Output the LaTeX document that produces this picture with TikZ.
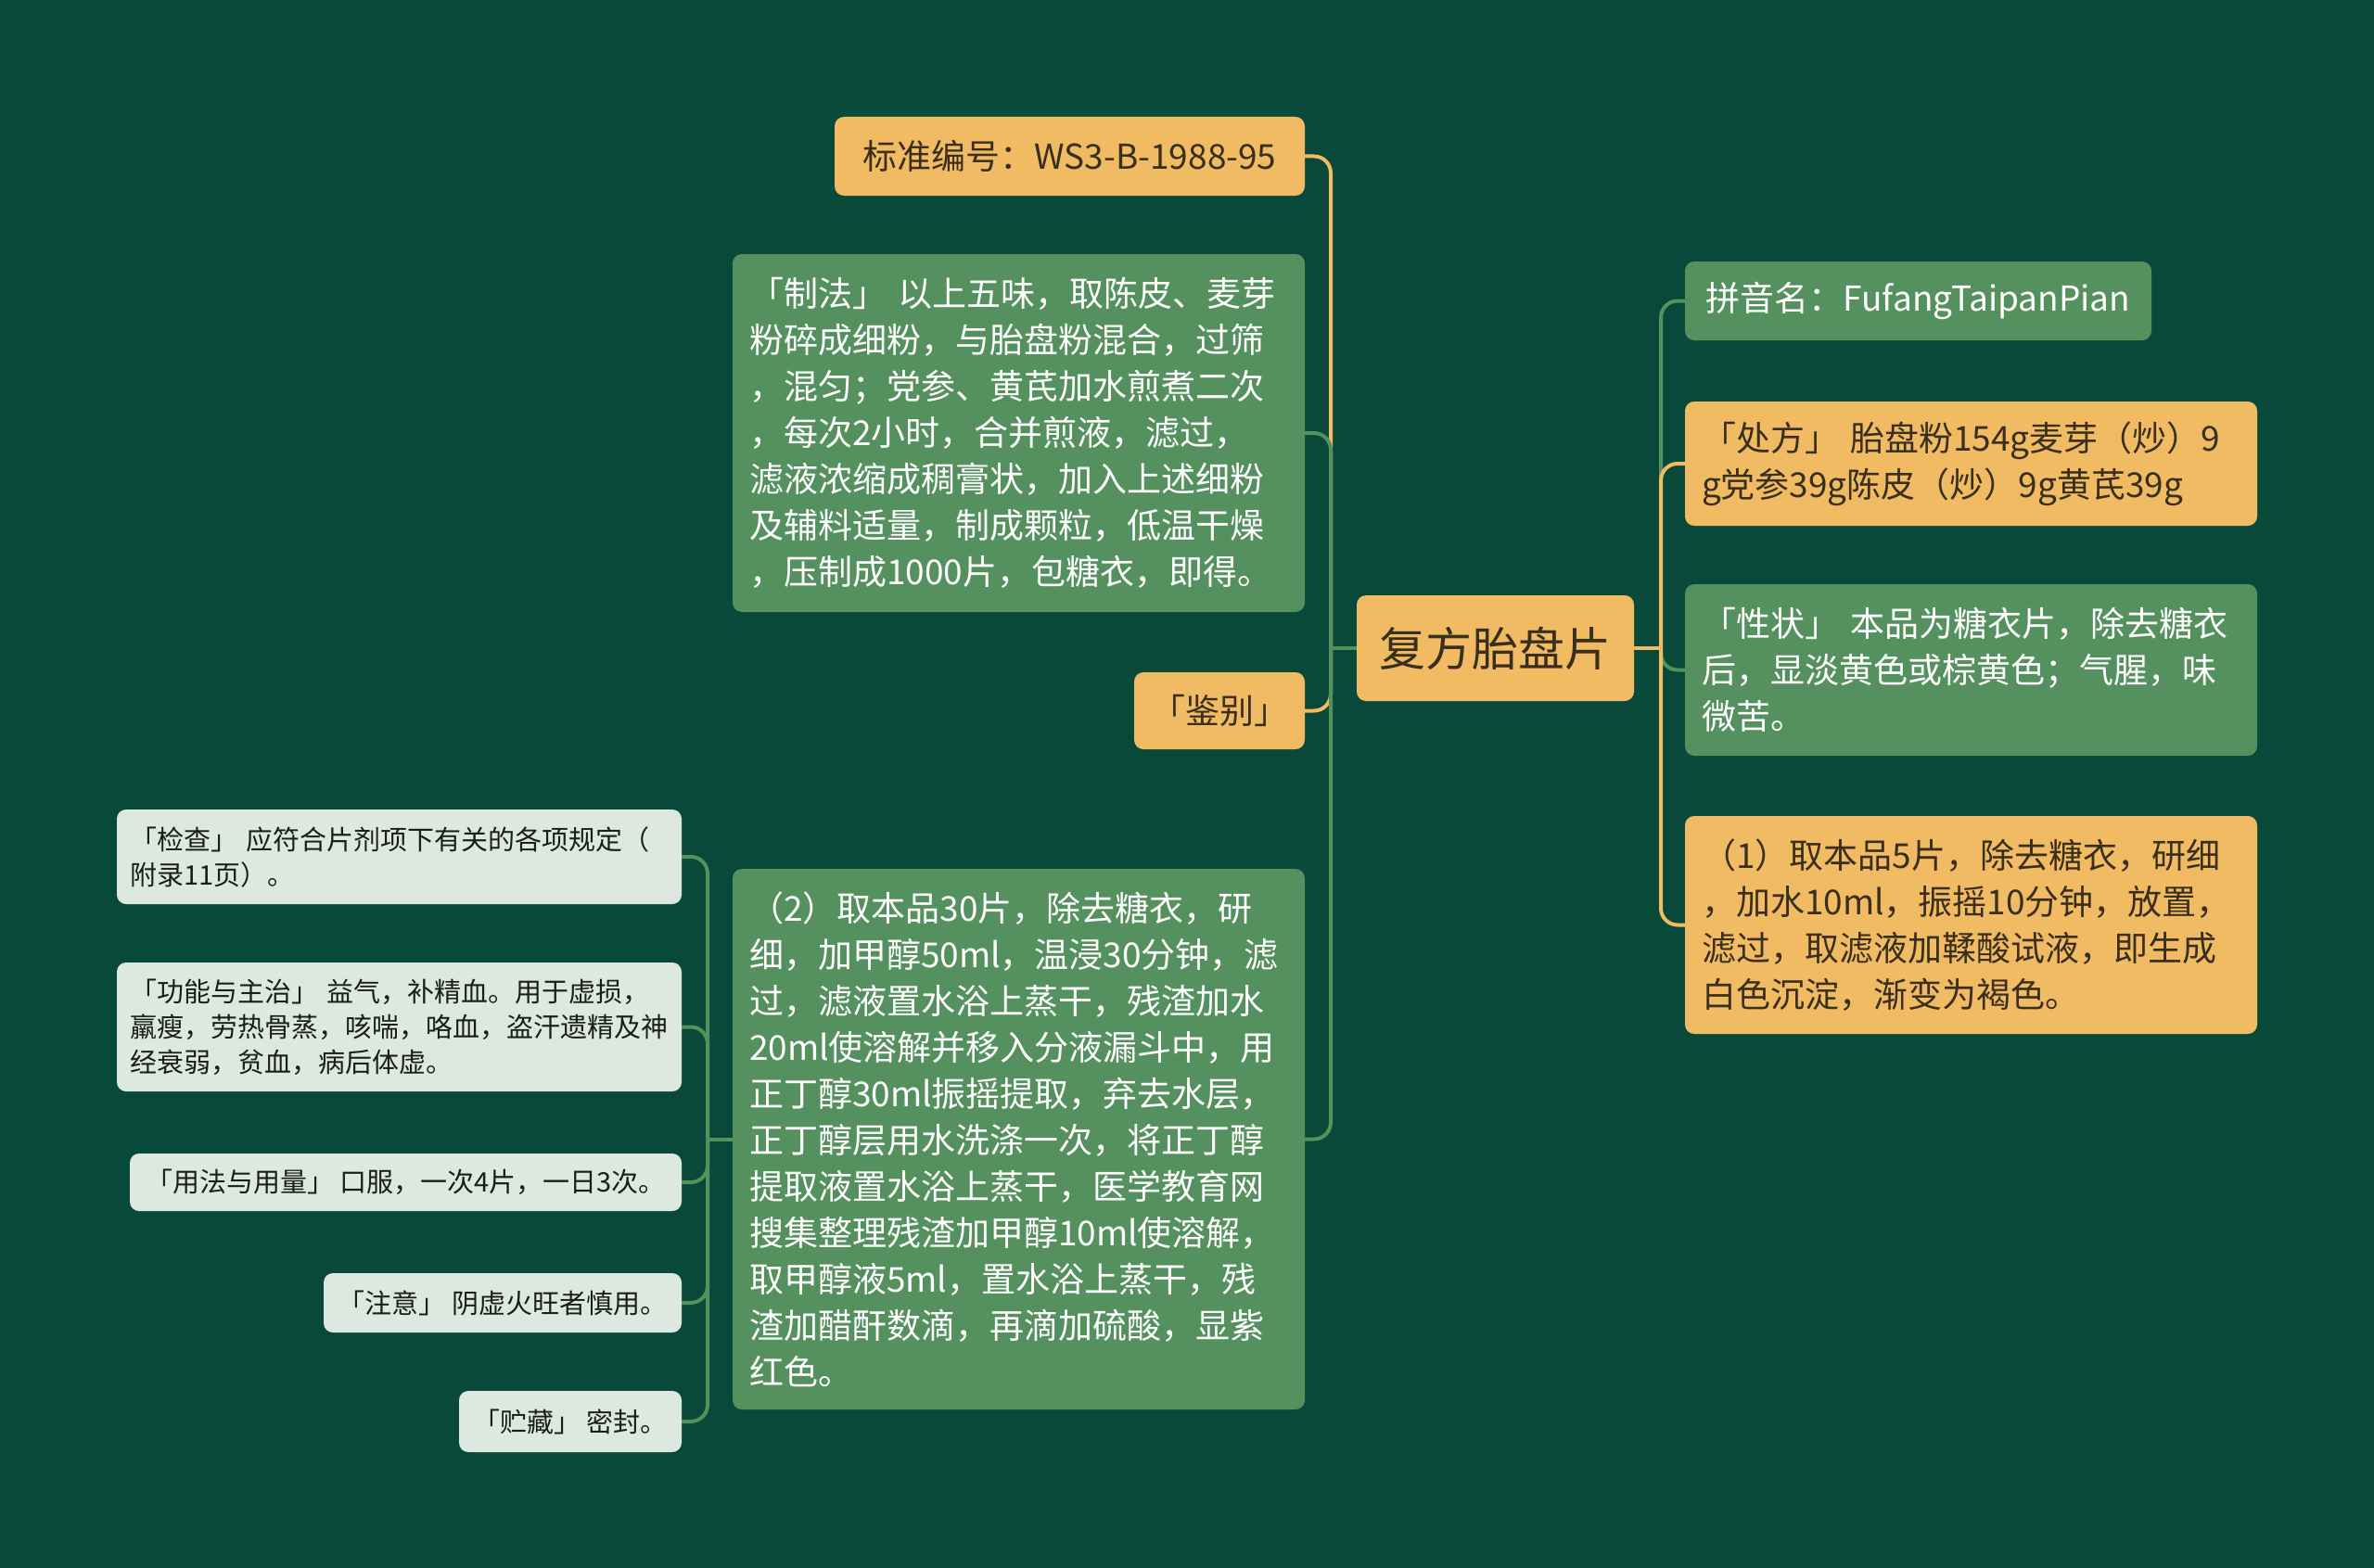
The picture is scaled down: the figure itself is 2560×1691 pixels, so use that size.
\documentclass[tikz,border=0pt]{standalone}
\usepackage{fontspec}
\setmainfont{Noto Sans CJK SC}
\definecolor{bg}{RGB}{8,73,57}
\definecolor{org}{RGB}{240,187,99}
\definecolor{grn}{RGB}{84,145,94}
\definecolor{gry}{RGB}{221,233,224}
\definecolor{dtxt}{RGB}{58,46,28}
\definecolor{gtxt}{RGB}{25,30,25}
\begin{document}
\begin{tikzpicture}[x=1pt,y=-1pt,
  basebox/.style={rounded corners=10pt, inner ysep=0pt, inner xsep=18pt, align=left},
  obox/.style={basebox, fill=org, text=dtxt, font=\fontsize{37}{50}\selectfont},
  gbox/.style={basebox, fill=grn, text=white, font=\fontsize{37}{50}\selectfont},
  sbox/.style={basebox, fill=gry, text=gtxt, inner xsep=14pt, font=\fontsize{29}{38}\selectfont},
  oline/.style={draw=org, line width=4pt, rounded corners=18pt},
  gline/.style={draw=grn, line width=4pt, rounded corners=18pt}]
\fill[bg] (0,0) rectangle (2560,1691);
\useasboundingbox (0,0) rectangle (2560,1691);

% center
\node[obox, align=center, inner xsep=0pt, minimum width=299pt, minimum height=114pt,
  font=\fontsize{50}{60}\selectfont] (ctr) at (1612.5,699) {复方胎盘片};

% left children
\node[obox, align=center, inner xsep=0pt, minimum width=507pt, minimum height=85pt] (bz) at (1153.5,168.5) {标准编号：WS3-B-1988-95};
\node[gbox, text width=581pt, minimum height=386pt] (zf) at (1098.5,467) {%
「制法」 以上五味，取陈皮、麦芽\\
粉碎成细粉，与胎盘粉混合，过筛\\
，混匀；党参、黄芪加水煎煮二次\\
，每次2小时，合并煎液，滤过，\\
滤液浓缩成稠膏状，加入上述细粉\\
及辅料适量，制成颗粒，低温干燥\\
，压制成1000片，包糖衣，即得。};
\node[obox, align=center, inner xsep=0pt, minimum width=184pt, minimum height=83pt] (jb) at (1315,766.5) {「鉴别」};
\node[gbox, text width=581pt, minimum height=583pt] (e2) at (1098.5,1228.5) {%
（2）取本品30片，除去糖衣，研\\
细，加甲醇50ml，温浸30分钟，滤\\
过，滤液置水浴上蒸干，残渣加水\\
20ml使溶解并移入分液漏斗中，用\\
正丁醇30ml振摇提取，弃去水层，\\
正丁醇层用水洗涤一次，将正丁醇\\
提取液置水浴上蒸干，医学教育网\\
搜集整理残渣加甲醇10ml使溶解，\\
取甲醇液5ml，置水浴上蒸干，残\\
渣加醋酐数滴，再滴加硫酸，显紫\\
红色。};

% right children
\node[gbox, align=center, inner xsep=0pt, minimum width=503pt, minimum height=85pt] (py) at (2068.5,324.5) {拼音名：FufangTaipanPian};
\node[obox, text width=581pt, minimum height=134pt] (cf) at (2125.5,500) {%
「处方」 胎盘粉154g麦芽（炒）9\\
g党参39g陈皮（炒）9g黄芪39g};
\node[gbox, text width=581pt, minimum height=185pt] (xz) at (2125.5,722.5) {%
「性状」 本品为糖衣片，除去糖衣\\
后，显淡黄色或棕黄色；气腥，味\\
微苦。};
\node[obox, text width=581pt, minimum height=235pt] (e1) at (2125.5,997.5) {%
（1）取本品5片，除去糖衣，研细\\
，加水10ml，振摇10分钟，放置，\\
滤过，取滤液加鞣酸试液，即生成\\
白色沉淀，渐变为褐色。};

% small left nodes
\node[sbox, text width=581pt, minimum height=102pt] (jc) at (430.5,924) {%
「检查」 应符合片剂项下有关的各项规定（\\
附录11页）。};
\node[sbox, text width=581pt, minimum height=139pt] (gn) at (430.5,1107.5) {%
「功能与主治」 益气，补精血。用于虚损，\\
羸瘦，劳热骨蒸，咳喘，咯血，盗汗遗精及神\\
经衰弱，贫血，病后体虚。};
\node[sbox, align=center, inner xsep=0pt, minimum width=595pt, minimum height=62pt] (yf) at (437.5,1275) {「用法与用量」 口服，一次4片，一日3次。};
\node[sbox, align=center, inner xsep=0pt, minimum width=386pt, minimum height=64pt] (zy) at (542,1405) {「注意」 阴虚火旺者慎用。};
\node[sbox, align=center, inner xsep=0pt, minimum width=240pt, minimum height=66pt] (zc) at (615,1533) {「贮藏」 密封。};

% trunk coordinates
\coordinate (tl) at (1435,699);
\coordinate (tr) at (1791,699);
\coordinate (ts) at (763,1228.5);

% left connectors
\draw[oline] (bz.east) -| (tl);
\draw[oline] (jb.east) -| (tl);
\draw[gline] (zf.east) -| (tl);
\draw[gline] (e2.east) -| (tl);
\draw[gline, rounded corners=0pt] (ctr.west) -- (tl);

% right connectors
\draw[gline] (py.west) -| (tr);
\draw[gline] (xz.west) -| (tr);
\draw[oline] (cf.west) -| (tr);
\draw[oline] (e1.west) -| (tr);
\draw[oline, rounded corners=0pt] (ctr.east) -- (tr);

% small connectors
\draw[gline] (jc.east) -| (ts);
\draw[gline] (gn.east) -| (ts);
\draw[gline] (yf.east) -| (ts);
\draw[gline] (zy.east) -| (ts);
\draw[gline] (zc.east) -| (ts);
\draw[gline, rounded corners=0pt] (e2.west) -- (ts);
\end{tikzpicture}
\end{document}
